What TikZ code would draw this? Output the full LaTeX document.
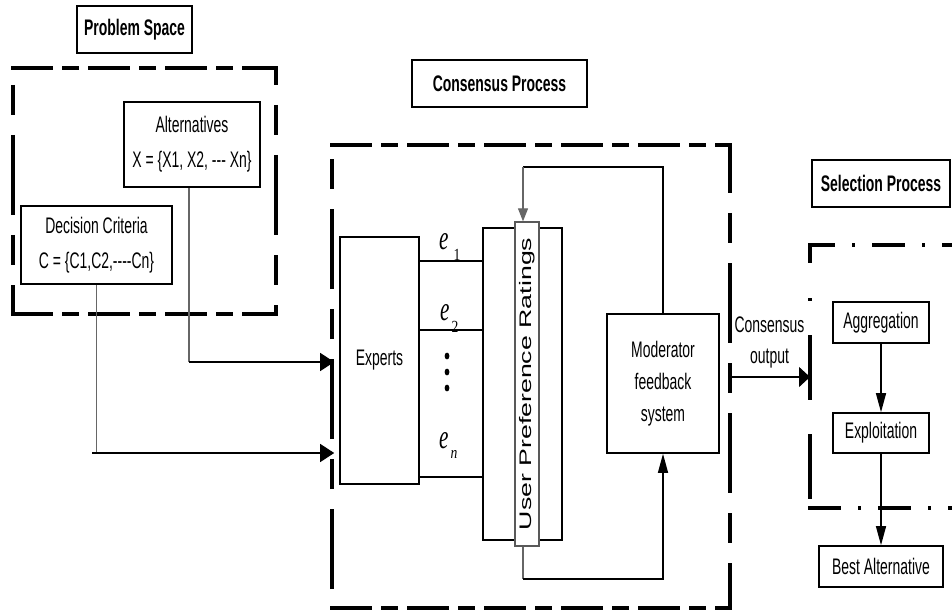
\documentclass[tikz,border=0pt]{standalone}
\usepackage{fontspec}
\setmainfont{Liberation Sans}[FakeStretch=0.62]
\newfontfamily\rotfont{Liberation Sans}[FakeStretch=1.6]
\newfontfamily\efont{Liberation Serif}[FakeStretch=0.62]
\newfontfamily\subfont{Liberation Serif}[FakeStretch=0.8]
\usetikzlibrary{arrows.meta}

\tikzset{
  box/.style={draw, line width=1.6pt, fill=white, inner sep=0pt, align=center,
    font=\fontsize{22.5}{33}\selectfont},
  titlebox/.style={box, font=\fontsize{22.5}{33}\selectfont\bfseries},
  conn/.style={line width=1.3pt, black},
  connlight/.style={line width=1.1pt, black!60},
  frameH/.style={line width=4pt, dash pattern=on 42pt off 9pt on 17pt off 9pt},
  frameV/.style={line width=4pt, dash pattern=on 80pt off 20pt on 30pt off 20pt},
  selframe/.style={line width=4pt, dash pattern=on 33pt off 17pt on 3pt off 17pt},
  harrow/.style={-{Triangle[length=14pt,width=18pt]}},
  varrow/.style={-{Triangle[length=19pt,width=10pt]}},
  tiparrow/.style={-{Triangle[length=13pt,width=10pt]}},
  outarrow/.style={-{Triangle[length=11pt,width=20pt]}},
  elabel/.style={anchor=base west, inner sep=0pt, font=\efont\itshape\fontsize{34}{34}\selectfont},
}
\newcommand{\esub}[1]{{\subfont\upshape\fontsize{17}{17}\selectfont #1}}

\begin{document}
\begin{tikzpicture}[x=1pt,y=-1pt]
\useasboundingbox (0,0) rectangle (952,612);
\fill[white] (0,0) rectangle (952,612);

% ---------- dashed frames ----------
% problem space
\draw[frameH] (11,68) -- (278,68);
\draw[frameH] (11,314) -- (278,314);
\draw[frameV, dash phase=63pt] (276,68) -- (276,314);
\draw[frameV, dash phase=83pt] (13,68) -- (13,314);
% consensus process
\draw[frameH] (330,145) -- (732,145);
\draw[frameH] (330,608) -- (732,608);
\draw[frameV, dash phase=32pt] (730,145) -- (730,608);
\draw[frameV, dash phase=131pt] (332,608) -- (332,145);
% selection process
\draw[selframe, dash phase=6pt] (808,245) -- (952,245);
\draw[selframe] (808,508) -- (952,508);
\draw[line width=4pt, dash pattern=on 18pt off 35pt on 3pt off 34pt on 65pt off 34pt on 65pt off 30pt]
  (810,245) -- (810,508);

% ---------- section titles ----------
\node[titlebox, minimum width=115pt, minimum height=47pt] (pstitle) at (134.5,29.5) {Problem Space};
\node[titlebox, minimum width=175pt, minimum height=47pt] (cptitle) at (499.5,83.5) {Consensus Process};
\node[titlebox, minimum width=138pt, minimum height=47pt] (sptitle) at (881,183.5) {Selection Process};

% ---------- problem space ----------
\node[box, minimum width=136pt, minimum height=85pt, font=\fontsize{22.5}{35}\selectfont]
  (alt) at (192,144.5) {Alternatives\\X = \{X1, X2, -{}-{}- Xn\}};
\node[box, minimum width=151pt, minimum height=78pt, font=\fontsize{22.5}{35}\selectfont]
  (dc) at (96.5,245) {Decision Criteria\\C = \{C1,C2,-{}-{}-{}-Cn\}};

% ---------- consensus process ----------
\node[box, minimum width=79pt, minimum height=247pt] (experts) at (379.5,360.5) {Experts};
\node[box, minimum width=79pt, minimum height=312pt] (upr) at (522.5,384) {};
\node[box, draw=black!65, line width=1.3pt, minimum width=24pt, minimum height=324pt] (uprin) at (527,384) {};
\node[rotate=90, inner sep=0pt, font=\rotfont\fontsize{16.7}{20}\selectfont] (uprtext) at (uprin.center) {User Preference Ratings};
\node[box, minimum width=112pt, minimum height=139pt, font=\fontsize{22.5}{32}\selectfont]
  (mod) at (663,383.5) {Moderator\\feedback\\system};

% expert links
\draw[conn] (experts.east |- 0,261) -- (upr.west |- 0,261);
\draw[conn] (experts.east |- 0,330) -- (upr.west |- 0,330);
\draw[conn] (experts.east |- 0,477) -- (upr.west |- 0,477);
\node[elabel] (e1) at (439,250) {e\kern5pt\raisebox{-10pt}{\esub{1}}};
\node[elabel] (e2) at (440,320) {e\kern2pt\raisebox{-12pt}{\esub{2}}};
\node[elabel] (en) at (439,448) {e\kern2pt\raisebox{-10pt}{\esub{\itshape n}}};
\foreach \yy in {356,372,388} \fill (447,\yy) ellipse [x radius=2.4pt, y radius=3.4pt];

% inputs from the problem space
\coordinate (altturn) at (189,362);
\coordinate (dcturn) at (92,453);
\draw[connlight] ([xshift=-3pt]alt.south) -- (altturn);
\draw[conn, harrow, shorten >=5pt] (altturn) -- (experts.west |- altturn);
\draw[connlight] (dc.south) -- (dc.south |- dcturn);
\draw[conn, harrow, shorten >=5pt] (dcturn) -- (experts.west |- dcturn);

% feedback loop
\coordinate (fbtop) at (523,167);
\coordinate (fbbot) at (523,579);
\draw[conn] (mod.north) |- (fbtop);
\draw[connlight, tiparrow] (fbtop) -- (fbtop |- uprin.north);
\draw[connlight] (fbbot |- uprin.south) -- (fbbot);
\draw[conn, varrow] (fbbot) -| (mod.south);

% consensus output
\coordinate (coL) at (730,377);
\coordinate (coR) at (810,377);
\draw[conn, outarrow] (coL) -- (coR);
\node[inner sep=0pt, align=center, font=\fontsize{22.5}{31}\selectfont] (cotext) at (769.5,342) {Consensus\\output};

% ---------- selection process ----------
\node[box, minimum width=96pt, minimum height=41pt] (agg) at (881,322.5) {Aggregation};
\node[box, minimum width=96pt, minimum height=40pt] (expl) at (881,433) {Exploitation};
\node[box, minimum width=124pt, minimum height=41pt] (best) at (881,566.5) {Best Alternative};
\draw[conn, varrow] (agg) -- (expl);
\draw[conn, varrow] (expl) -- (best);
\end{tikzpicture}
\end{document}
